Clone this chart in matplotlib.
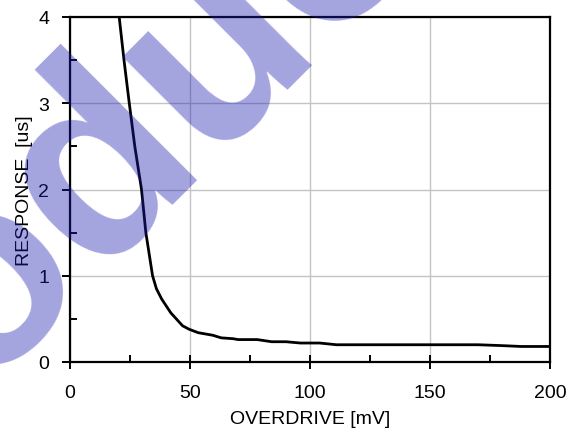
import matplotlib.pyplot as plt
from matplotlib.ticker import MultipleLocator

plt.rcParams["font.family"] = ["Liberation Sans", "DejaVu Sans"]

# overdrive [mV] vs response [us]
overdrive = [20.5, 22.5, 24.7, 27.0, 29.8, 31.6, 32.5, 34.4, 36.0, 38.2, 42.0,
             46.9, 49.6, 53.4, 59.5, 63.0, 68.0, 70.0, 78.0, 84.0, 90.0, 96.0,
             104.0, 111.0, 120.0, 170.0, 180.0, 188.0, 200.0]
response = [4.0, 3.5, 3.0, 2.5, 2.0, 1.5, 1.34, 1.0, 0.85, 0.73, 0.57,
            0.42, 0.38, 0.34, 0.31, 0.28, 0.27, 0.26, 0.26, 0.235, 0.235, 0.22,
            0.22, 0.2, 0.2, 0.2, 0.19, 0.18, 0.18]
x_ticks = [0, 50, 100, 150, 200]
y_ticks = [0, 1, 2, 3, 4]

fig = plt.figure(figsize=(5.75, 4.35), dpi=100)
ax = fig.add_axes([70 / 575, 1 - 363 / 435, 480 / 575, 345 / 435])

ax.plot(overdrive, response, color="black", lw=2.0, zorder=3)

ax.set_xlim(0, 200)
ax.set_ylim(0, 4)
ax.set_xticks(x_ticks)
ax.set_yticks(y_ticks)
ax.xaxis.set_minor_locator(MultipleLocator(25))
ax.yaxis.set_minor_locator(MultipleLocator(0.5))
ax.grid(True, which="major", color="#c4c4c4", lw=1.0)
ax.set_axisbelow(True)

for s in ax.spines.values():
    s.set_linewidth(1.6)
ax.tick_params(axis="x", which="major", direction="inout", length=10, width=1.4,
               labelsize=14, pad=11)
ax.tick_params(axis="x", which="minor", direction="in", length=5, width=1.4)
ax.tick_params(axis="y", which="major", direction="out", length=6, width=1.4,
               labelsize=14, pad=9)
ax.tick_params(axis="y", which="minor", direction="in", length=5, width=1.4)

ax.set_xlabel("OVERDRIVE [mV]", fontsize=14, labelpad=6)
ax.set_ylabel("RESPONSE  [us]", fontsize=14, labelpad=4)

# watermark drawn over everything
fig.text(-0.254, -0.185, "Soduo", fontsize=191, fontweight="bold",
         color="#1a1ab0", alpha=0.4, rotation=45, rotation_mode="anchor",
         ha="left", va="baseline", zorder=10)

fig.savefig("out.png", dpi=100)
